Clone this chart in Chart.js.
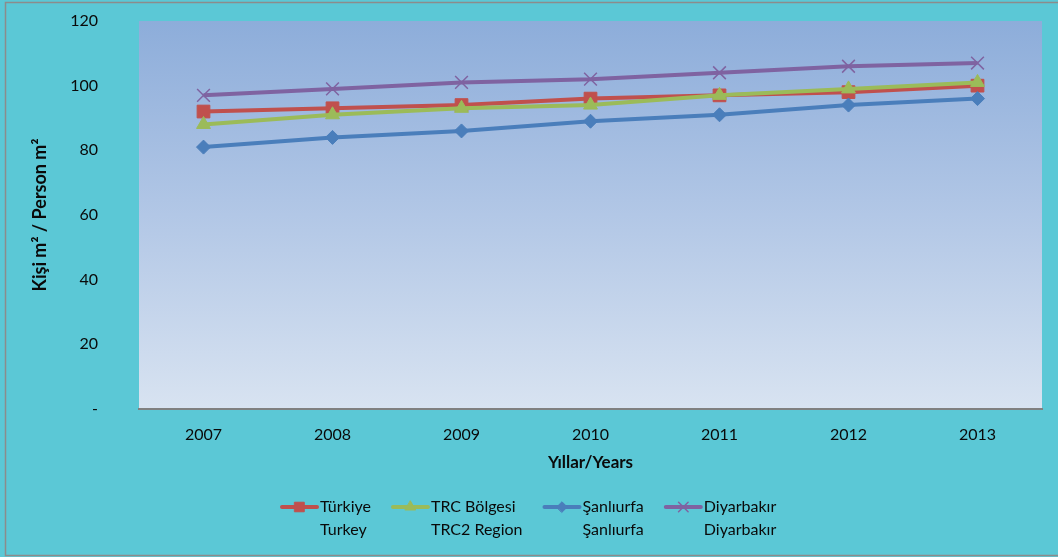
<!DOCTYPE html>
<html>
<head>
<meta charset="utf-8">
<title>Kişi m2</title>
<script src="https://cdn.jsdelivr.net/npm/chart.js@4.4.1/dist/chart.umd.min.js"></script>
<style>
    html, body { margin: 0; padding: 0; background: #5BC8D6; }
    #chartBox { width: 1058px; height: 557px; }
</style>
</head>
<body>
<div id="chartBox"><canvas id="kisiChart" width="1058" height="557"></canvas></div>
<script>
// Datos
var years = ['2007', '2008', '2009', '2010', '2011', '2012', '2013'];
var turkiye = [92, 93, 94, 96, 97, 98, 100];
var trcBolgesi = [88, 91, 93, 94, 97, 99, 101];
var sanliurfa = [81, 84, 86, 89, 91, 94, 96];
var diyarbakir = [97, 99, 101, 102, 104, 106, 107];
var yTickLabels = ['-', '20', '40', '60', '80', '100', '120'];
var seriesNames = [
    ['Türkiye', 'Turkey'],
    ['TRC Bölgesi', 'TRC2 Region'],
    ['Şanlıurfa', 'Şanlıurfa'],
    ['Diyarbakır', 'Diyarbakır']
];

var FONT = 'Lato, "Open Sans", sans-serif';

// fondo y area del grafico
var fondoPlugin = {
    id: 'fondo',
    beforeDraw: function (chart) {
        var ctx = chart.ctx;
        var a = chart.chartArea;
        ctx.save();
        ctx.fillStyle = '#5BC8D6';
        ctx.fillRect(0, 0, chart.width, chart.height);
        ctx.strokeStyle = '#8C8C8C';
        ctx.lineWidth = 1.5;
        ctx.strokeRect(5.5, 2.5, chart.width + 10, chart.height - 4);
        var grad = ctx.createLinearGradient(0, a.top, 0, a.bottom);
        grad.addColorStop(0, '#8DADDA');
        grad.addColorStop(0.5, '#B2C7E6');
        grad.addColorStop(1, '#D8E3F1');
        ctx.fillStyle = grad;
        ctx.fillRect(a.left, a.top, a.right - a.left, a.bottom - a.top);
        ctx.restore();
    }
};

// leyenda de dos lineas
var leyendaPlugin = {
    id: 'leyenda',
    afterDraw: function (chart) {
        var ctx = chart.ctx;
        ctx.save();
        ctx.font = '16px ' + FONT;
        ctx.textBaseline = 'middle';
        ctx.textAlign = 'left';
        var lineLen = 35, gapText = 3, gapItem = 22;
        var widths = seriesNames.map(function (n) {
            return Math.max(ctx.measureText(n[0]).width, ctx.measureText(n[1]).width);
        });
        var total = widths.reduce(function (s, w) { return s + lineLen + gapText + w; }, 0) + gapItem * (widths.length - 1);
        var x = Math.round(chart.width / 2 - total / 2);
        var y1 = 507, y2 = 530;
        chart.data.datasets.forEach(function (ds, i) {
            ctx.strokeStyle = ds.borderColor;
            ctx.lineWidth = 4;
            ctx.lineCap = 'round';
            ctx.beginPath();
            ctx.moveTo(x, y1);
            ctx.lineTo(x + lineLen, y1);
            ctx.stroke();
            ctx.fillStyle = ds.pointBackgroundColor;
            ctx.strokeStyle = ds.pointBorderColor;
            ctx.lineWidth = ds.pointBorderWidth;
            Chart.helpers.drawPoint(ctx, {
                pointStyle: ds.pointStyle,
                radius: ds.pointRadius * 0.75,
                rotation: 0,
                borderWidth: ds.pointBorderWidth
            }, x + lineLen / 2, y1);
            ctx.fillStyle = '#0A0A0A';
            ctx.fillText(seriesNames[i][0], x + lineLen + gapText, y1);
            ctx.fillText(seriesNames[i][1], x + lineLen + gapText, y2);
            x += lineLen + gapText + widths[i] + gapItem;
        });
        ctx.restore();
    }
};

function serie(label, data, color, style, radius, orden) {
    return {
        label: label,
        data: data,
        borderColor: color,
        backgroundColor: color,
        borderWidth: 4,
        pointStyle: style,
        pointRadius: radius,
        pointHoverRadius: radius,
        pointBackgroundColor: color,
        pointBorderColor: color,
        pointBorderWidth: style === 'crossRot' ? 1.5 : 1,
        tension: 0,
        order: orden
    };
}

var ctx = document.getElementById('kisiChart').getContext('2d');

var kisiChart = new Chart(ctx, {
    type: 'line',
    data: {
        labels: years,
        datasets: [
            serie(seriesNames[0].join(' / '), turkiye, '#C0504D', 'rect', 9, 4),
            serie(seriesNames[1].join(' / '), trcBolgesi, '#9BBB59', 'triangle', 8, 3),
            serie(seriesNames[2].join(' / '), sanliurfa, '#4A7EBB', 'rectRot', 7, 2),
            serie(seriesNames[3].join(' / '), diyarbakir, '#7F63A1', 'crossRot', 9, 1)
        ]
    },
    options: {
        responsive: false,
        animation: false,
        layout: {
            padding: { left: 0, top: 21, right: 16, bottom: 0 }
        },
        plugins: {
            legend: { display: false },
            tooltip: { enabled: false }
        },
        scales: {
            x: {
                offset: true,
                grid: { display: false },
                border: { display: true, color: '#808080', width: 2 },
                ticks: {
                    color: '#0A0A0A',
                    padding: 8,
                    font: { family: FONT, size: 16 }
                },
                title: {
                    display: true,
                    text: 'Yıllar/Years',
                    color: '#0A0A0A',
                    font: { family: FONT, size: 17, weight: 'bold' },
                    padding: { top: 0, bottom: 84 }
                },
                afterFit: function (scale) { scale.height = 148; }
            },
            y: {
                min: 0,
                max: 120,
                grid: { display: false },
                border: { display: false },
                ticks: {
                    stepSize: 20,
                    color: '#0A0A0A',
                    padding: 33,
                    font: { family: FONT, size: 16 },
                    callback: function (value, index) { return yTickLabels[index]; }
                },
                title: {
                    display: true,
                    text: 'Kişi m² / Person m²',
                    color: '#0A0A0A',
                    font: { family: FONT, size: 18, weight: 'bold' },
                    padding: { top: 29, bottom: 0 }
                },
                afterFit: function (scale) {
                    scale.width = 139;
                    scale.paddingTop = 0;
                    scale.paddingBottom = 0;
                }
            }
        }
    },
    plugins: [fondoPlugin, leyendaPlugin]
});
</script>
</body>
</html>
